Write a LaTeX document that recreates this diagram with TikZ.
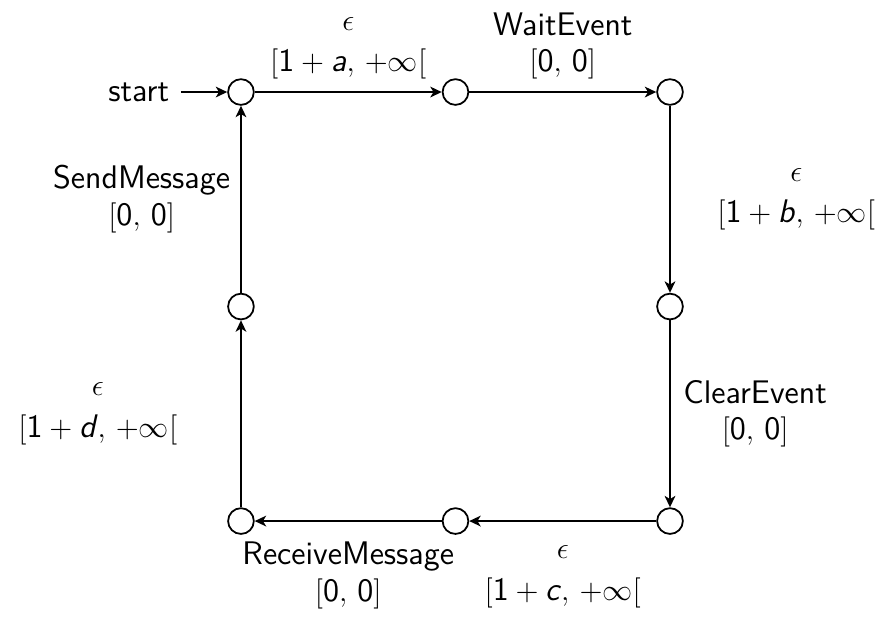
\documentclass[tikz,border=0pt]{standalone}
\usepackage{fontspec}
\usepackage{tikz}
\usetikzlibrary{positioning,arrows.meta}
\renewcommand{\familydefault}{\sfdefault}
\newcommand{\sfvar}[1]{\mbox{\textit{#1}}}
\newcommand{\sfnum}[1]{\mbox{#1}}

\begin{document}
\begin{tikzpicture}[
				on grid, node distance=3cm,
				state/.style={circle, draw, line width=0.7pt, minimum size=0.36cm, inner sep=0pt},
				arrow/.style={-{Stealth[length=1.6mm, width=1.5mm, inset=0.45mm]}, line width=0.7pt},
				lbl/.style={align=center, font=\fontsize{13}{14.5}\selectfont, inner sep=0pt}
			]
			\useasboundingbox (-3.37,1.287) rectangle (8.965,-7.385);
			% States
			\node[state] (q0) {};
			\node[state, right=of q0] (q1) {};
			\node[state, right=of q1] (q2) {};
			\node[state, below=of q2] (q3) {};
			\node[state, below=of q3] (q4) {};
			\node[state, left=of q4] (q5) {};
			\node[state, left=of q5] (q6) {};
			\node[state, above=of q6] (q7) {};
			\node[lbl, inner sep=4.5pt, left=1.43cm of q0] (start) {start};

			% Transitions
			\draw[arrow] (start) -- (q0);
			\draw[arrow] (q0) -- node[lbl, above=4.8pt] {$\epsilon$\\[2pt]$[\sfnum{1}+\sfvar{a},\,+\infty[$} (q1);
			\draw[arrow] (q1) -- node[lbl, above=4.8pt] {WaitEvent\\$[\sfnum{0},\,\sfnum{0}]$} (q2);
			\draw[arrow] (q2) -- node[lbl, right=18.5pt] {$\epsilon$\\[2pt]$[\sfnum{1}+\sfvar{b},\,+\infty[$} (q3);
			\draw[arrow] (q3) -- node[lbl, right=5pt] {ClearEvent\\$[\sfnum{0},\,\sfnum{0}]$} (q4);
			\draw[arrow] (q4) -- node[lbl, below=9.5pt] {$\epsilon$\\[2pt]$[\sfnum{1}+\sfvar{c},\,+\infty[$} (q5);
			\draw[arrow] (q5) -- node[lbl, below=8pt] {ReceiveMessage\\$[\sfnum{0},\,\sfnum{0}]$} (q6);
			\draw[arrow] (q6) -- node[lbl, left=25pt] {$\epsilon$\\[2pt]$[\sfnum{1}+\sfvar{d},\,+\infty[$} (q7);
			\draw[arrow] (q7) -- node[lbl, left=4pt] {SendMessage\\$[\sfnum{0},\,\sfnum{0}]$} (q0);
		\end{tikzpicture}
\end{document}
